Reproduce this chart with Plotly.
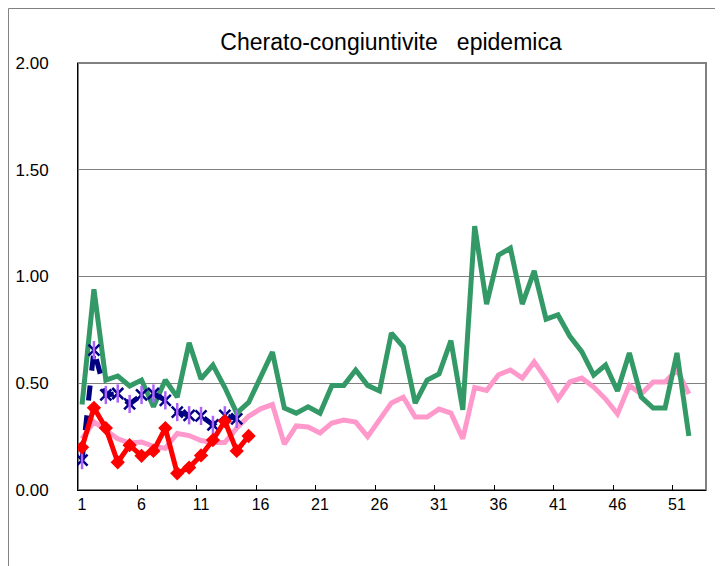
import plotly.graph_objects as go

weeks = list(range(1, 53))

green_vals = [0.40, 0.94, 0.515, 0.534, 0.487, 0.515, 0.39, 0.515, 0.435, 0.69,
              0.52, 0.585, 0.48, 0.36, 0.41, 0.53, 0.646, 0.384, 0.36, 0.39,
              0.36, 0.49, 0.49, 0.562, 0.49, 0.464, 0.735, 0.67, 0.407, 0.515,
              0.543, 0.70, 0.375, 1.236, 0.871, 1.10, 1.133, 0.871, 1.026, 0.80,
              0.82, 0.72, 0.648, 0.538, 0.585, 0.464, 0.642, 0.435, 0.384, 0.384,
              0.642, 0.253]

pink_vals = [0.24, 0.32, 0.28, 0.24, 0.22, 0.225, 0.205, 0.195, 0.265, 0.255,
             0.232, 0.222, 0.222, 0.29, 0.345, 0.38, 0.40, 0.215, 0.30, 0.295,
             0.267, 0.314, 0.328, 0.318, 0.25, 0.332, 0.408, 0.435, 0.342, 0.342,
             0.379, 0.36, 0.24, 0.48, 0.466, 0.54, 0.562, 0.524, 0.60, 0.52,
             0.426, 0.506, 0.524, 0.482, 0.426, 0.356, 0.49, 0.45, 0.506, 0.506,
             0.562, 0.45]

blue_vals = [0.14, 0.655, 0.445, 0.452, 0.403, 0.445, 0.452, 0.42, 0.365, 0.35,
             0.347, 0.305, 0.35, 0.333]

red_vals = [0.20, 0.385, 0.29, 0.13, 0.21, 0.16, 0.183, 0.29, 0.078, 0.105,
            0.162, 0.234, 0.323, 0.183, 0.253]

x_tick_labels = [1, 6, 11, 16, 21, 26, 31, 36, 41, 46, 51]
y_tick_vals = [0, 0.5, 1.0, 1.5, 2.0]
y_tick_text = ["0.00", "0.50", "1.00", "1.50", "2.00"]

title_text = "Cherato-congiuntivite\u00a0\u00a0 epidemica"

fig = go.Figure()

fig.add_trace(go.Scatter(x=weeks, y=pink_vals, mode="lines",
                         line=dict(color="#FF99CC", width=5), showlegend=False))
fig.add_trace(go.Scatter(x=weeks, y=green_vals, mode="lines",
                         line=dict(color="#339966", width=5), showlegend=False))
fig.add_trace(go.Scatter(x=weeks[:len(blue_vals)], y=blue_vals, mode="lines+markers",
                         line=dict(color="#000080", width=5, dash="dash"),
                         marker=dict(symbol="x-thin-open", size=11,
                                     line=dict(color="#000080", width=2.5)),
                         showlegend=False))
fig.add_trace(go.Scatter(x=weeks[:len(blue_vals)], y=blue_vals, mode="markers",
                         marker=dict(symbol="line-ns-open", size=13,
                                     line=dict(color="#000080", width=2.5)),
                         showlegend=False))
fig.add_trace(go.Scatter(x=weeks[:len(red_vals)], y=red_vals, mode="lines+markers",
                         line=dict(color="#FF0000", width=5),
                         marker=dict(symbol="diamond", size=11, color="#FF0000"),
                         showlegend=False))

fig.update_layout(
    width=715, height=558, autosize=False,
    margin=dict(l=70, r=17, t=55, b=76),
    paper_bgcolor="white", plot_bgcolor="white",
    title=dict(text=title_text, x=0.5357, xanchor="center", y=0.939, yanchor="middle",
               yref="container", xref="container",
               font=dict(family="Liberation Sans, Arial", size=23, color="black")),
    xaxis=dict(range=[0.66, 53.44], tickvals=x_tick_labels,
               ticktext=[str(v) for v in x_tick_labels],
               ticks="", showgrid=False, zeroline=False, automargin=False,
               showline=True, linecolor="black", linewidth=1,
               ticklabelstandoff=0,
               tickfont=dict(family="Liberation Sans, Arial", size=16, color="black"),
               minor=dict(tickvals=[v + 4.66 for v in x_tick_labels[:-1]],
                          ticks="inside", ticklen=5, tickcolor="black", showgrid=False)),
    yaxis=dict(range=[0, 2], tickvals=y_tick_vals, ticktext=y_tick_text,
               ticks="", showgrid=True, gridcolor="#808080", gridwidth=1,
               zeroline=False, showline=True, linecolor="black", linewidth=1,
               ticklabelstandoff=25, automargin=False,
               tickfont=dict(family="Liberation Sans, Arial", size=17, color="black")),
    shapes=[
        dict(type="rect", xref="paper", yref="paper", x0=0, y0=0, x1=1, y1=1,
             line=dict(color="#808080", width=2), layer="below"),
        dict(type="rect", xref="paper", yref="paper", x0=-0.1107, y0=-0.25, x1=1.1, y1=1.1276,
             line=dict(color="#808080", width=1), layer="below"),
    ],
)

fig.write_html("out.html")
